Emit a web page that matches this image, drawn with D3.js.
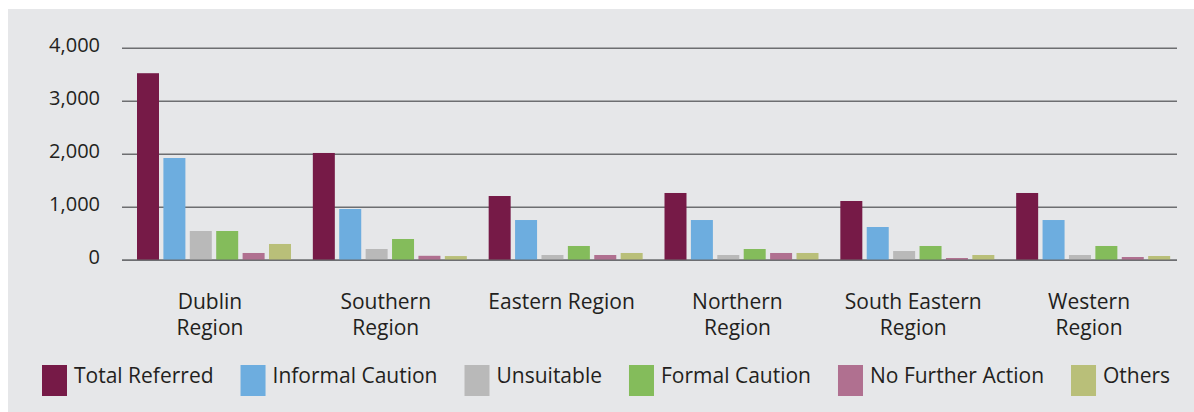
<!DOCTYPE html>
<html>
<head>
<meta charset="utf-8">
<script src="https://cdn.jsdelivr.net/npm/d3@7"></script>
<style>
  html, body { margin: 0; padding: 0; background: #ffffff; }
  svg { display: block; }
  text { font-family: "Open Sans", sans-serif; fill: #231f20; }
</style>
</head>
<body>
<svg id="chart" width="1194" height="412"></svg>
<script>
// ---- data ----
const categories = [
  ["Dublin", "Region"],
  ["Southern", "Region"],
  ["Eastern Region"],
  ["Northern", "Region"],
  ["South Eastern", "Region"],
  ["Western", "Region"]
];
const seriesNames = ["Total Referred", "Informal Caution", "Unsuitable", "Formal Caution", "No Further Action", "Others"];
const totalReferred    = [3530, 2025, 1213, 1270, 1119, 1270];
const informalCaution  = [1930,  968,  760,  760,  628,  760];
const unsuitable       = [ 553,  213,  100,  100,  175,  100];
const formalCaution    = [ 553,  402,  270,  213,  270,  270];
const noFurtherAction  = [ 138,   85,  100,  138,   43,   62];
const others           = [ 308,   80,  138,  138,  100,   81];
const yTicks = [0, 1000, 2000, 3000, 4000];
const colors = ["#761a47", "#6daddf", "#b9b9b9", "#84bc5b", "#b07090", "#b9bf79"];

const seriesValues = [totalReferred, informalCaution, unsuitable, formalCaution, noFurtherAction, others];
const catKeys = categories.map(c => c.join(" "));

// ---- layout ----
const svg = d3.select("#chart");
svg.append("rect").attr("x", 8).attr("y", 9).attr("width", 1186).attr("height", 403).attr("fill", "#e6e7e9");

const plotLeft = 122, plotRight = 1177;
const y = d3.scaleLinear().domain([0, 4000]).range([260.3, 48.3]);
const x0 = d3.scaleBand().domain(catKeys).range([plotLeft, plotRight]).paddingInner(0).paddingOuter(0);
const x1 = d3.scaleBand().domain(seriesNames).range([15, 169]).paddingInner(0.167).paddingOuter(0);

// gridlines
const grid = svg.append("g");
grid.selectAll("line").data(yTicks).join("line")
  .attr("x1", plotLeft).attr("x2", plotRight)
  .attr("y1", d => y(d)).attr("y2", d => y(d))
  .attr("stroke", "#6d6e71").attr("stroke-width", 1.5);

// y labels
const fmt = d3.format(",");
svg.append("g").selectAll("text").data(yTicks).join("text")
  .attr("x", 100).attr("y", d => y(d) + 4)
  .attr("text-anchor", "end")
  .style("font-size", "20px")
  .text(d => fmt(d));

// bars
const groups = svg.append("g").selectAll("g").data(catKeys).join("g")
  .attr("transform", d => `translate(${x0(d)},0)`);
groups.selectAll("rect")
  .data((d, i) => seriesNames.map((s, j) => ({ s, j, v: seriesValues[j][i] })))
  .join("rect")
  .attr("x", d => x1(d.s))
  .attr("width", x1.bandwidth())
  .attr("y", d => y(d.v))
  .attr("height", d => y(0) - y(d.v))
  .attr("fill", d => colors[d.j]);

// redraw zero line on top
svg.append("line").attr("x1", plotLeft).attr("x2", plotRight)
  .attr("y1", y(0)).attr("y2", y(0)).attr("stroke", "#6d6e71").attr("stroke-width", 1.5);

// category labels
const cl = svg.append("g").selectAll("text").data(categories).join("text")
  .attr("text-anchor", "middle")
  .attr("x", (d, i) => x0(catKeys[i]) + x0.bandwidth() / 2)
  .attr("y", 309)
  .style("font-size", "21px");
cl.selectAll("tspan").data(d => d).join("tspan")
  .attr("x", function() { return d3.select(this.parentNode).attr("x"); })
  .attr("dy", (d, i) => i === 0 ? 0 : 26)
  .text(d => d);

// legend (flow layout)
const leg = svg.append("g");
let lx = 42;
seriesNames.forEach((name, i) => {
  leg.append("rect").attr("x", lx).attr("y", 365).attr("width", 25).attr("height", 31).attr("fill", colors[i]);
  const t = leg.append("text").attr("x", lx + 32).attr("y", 383).style("font-size", "21px").text(name);
  lx = lx + 32 + t.node().getComputedTextLength() + 27;
});
</script>
</body>
</html>
